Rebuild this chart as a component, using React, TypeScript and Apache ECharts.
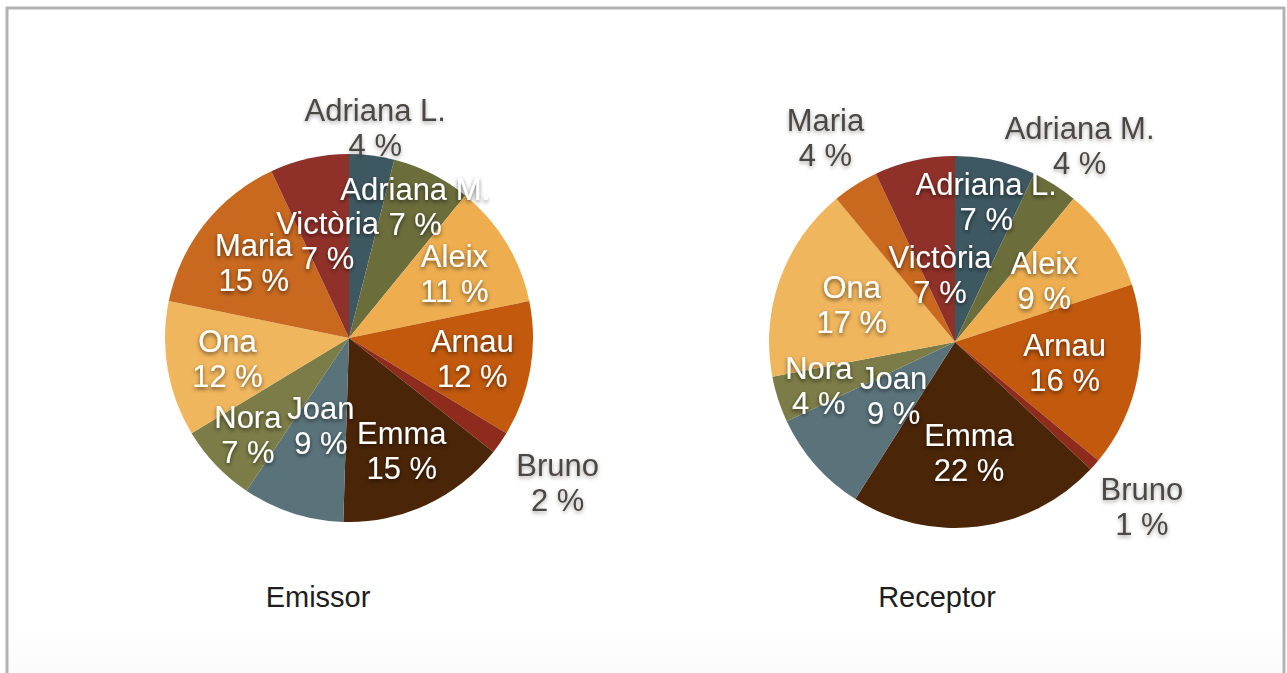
import React, { useEffect, useRef } from "react";
import * as echarts from "echarts";

const names = ["Adriana L.", "Adriana M.", "Aleix", "Arnau", "Bruno", "Emma", "Joan", "Nora", "Ona", "Maria", "Victòria"];
const colors = ["#3e5862", "#6b6d3b", "#eeae4f", "#c2590d", "#8e2b1c", "#4a2507", "#5a737a", "#7b7c47", "#f0b65d", "#c8691f", "#903129"];
const emissorValues = [4, 7, 11, 12, 2, 15, 9, 7, 12, 15, 7];
const receptorValues = [7, 4, 9, 16, 1, 22, 9, 4, 17, 4, 7];
const emissorOutside = ["Adriana L.", "Bruno"];
const receptorOutside = ["Adriana M.", "Bruno", "Maria"];
const chartTitles = ["Emissor", "Receptor"];

// label distance from the centre, as a fraction of the radius (layout only)
const emissorLabelDist = [1.15, 0.8, 0.67, 0.68, 1.38, 0.68, 0.5, 0.76, 0.67, 0.66, 0.54];
const receptorLabelDist = [0.77, 1.25, 0.58, 0.6, 1.34, 0.6, 0.44, 0.77, 0.59, 1.3, 0.37];

const FONT = "'Liberation Sans', Arial, Helvetica, sans-serif";

function pieSeries(values: number[], outside: string[], dist: number[], center: number[], r: number) {
  const total = values.reduce((a, b) => a + b, 0);
  const mids: number[] = [];
  let cum = 0;
  values.forEach((v) => {
    mids.push(((cum + v / 2) / total) * Math.PI * 2);
    cum += v;
  });
  return {
    type: "pie",
    silent: true,
    center,
    radius: [0, r],
    startAngle: 90,
    clockwise: true,
    avoidLabelOverlap: false,
    labelLine: { show: false },
    itemStyle: { borderWidth: 0 },
    label: {
      show: true,
      position: "inside",
      formatter: "{b}\n{c} %",
      color: "#ffffff",
      fontSize: 31,
      lineHeight: 35,
      fontFamily: FONT,
      textShadowColor: "rgba(0,0,0,0.6)",
      textShadowBlur: 4,
      textShadowOffsetY: 2,
      textBorderWidth: 0,
    },
    labelLayout: (p: any) => {
      const i = p.dataIndex;
      const a = mids[i];
      return {
        x: center[0] + dist[i] * r * Math.sin(a),
        y: center[1] - dist[i] * r * Math.cos(a),
        align: "center",
        verticalAlign: "middle",
        hideOverlap: false,
      };
    },
    data: names.map((n, i) => ({
      name: n,
      value: values[i],
      itemStyle: { color: colors[i] },
      label: outside.includes(n)
        ? { color: "#4b4743", textShadowColor: "rgba(0,0,0,0.35)" }
        : {},
    })),
  };
}

export default function App() {
  const ref = useRef<HTMLDivElement>(null);
  useEffect(() => {
    if (!ref.current) return;
    const chart = echarts.init(ref.current, null, { renderer: "svg" });
    chart.setOption({
      animation: false,
      backgroundColor: "#ffffff",
      graphic: [
        {
          type: "rect",
          z: 0,
          shape: { x: 7, y: 8, width: 1277, height: 700 },
          style: {
            fill: new echarts.graphic.LinearGradient(0, 0, 0, 1, [
              { offset: 0, color: "#ffffff" },
              { offset: 0.88, color: "#ffffff" },
              { offset: 1, color: "#f7f7f7" },
            ]),
            stroke: "#b3b3b3",
            lineWidth: 3,
          },
        },
        {
          type: "text",
          z: 10,
          x: 318,
          y: 597,
          style: {
            text: chartTitles[0],
            fill: "#1e1e1e",
            font: `29px ${FONT}`,
            textAlign: "center",
            textVerticalAlign: "middle",
          },
        },
        {
          type: "text",
          z: 10,
          x: 937,
          y: 597,
          style: {
            text: chartTitles[1],
            fill: "#1e1e1e",
            font: `29px ${FONT}`,
            textAlign: "center",
            textVerticalAlign: "middle",
          },
        },
      ],
      series: [
        pieSeries(emissorValues, emissorOutside, emissorLabelDist, [349, 338], 184),
        pieSeries(receptorValues, receptorOutside, receptorLabelDist, [955, 342], 186),
      ],
    });
    return () => chart.dispose();
  }, []);
  return (
    <div
      ref={ref}
      style={{ position: "absolute", left: 0, top: 0, width: 1287, height: 673 }}
    />
  );
}
